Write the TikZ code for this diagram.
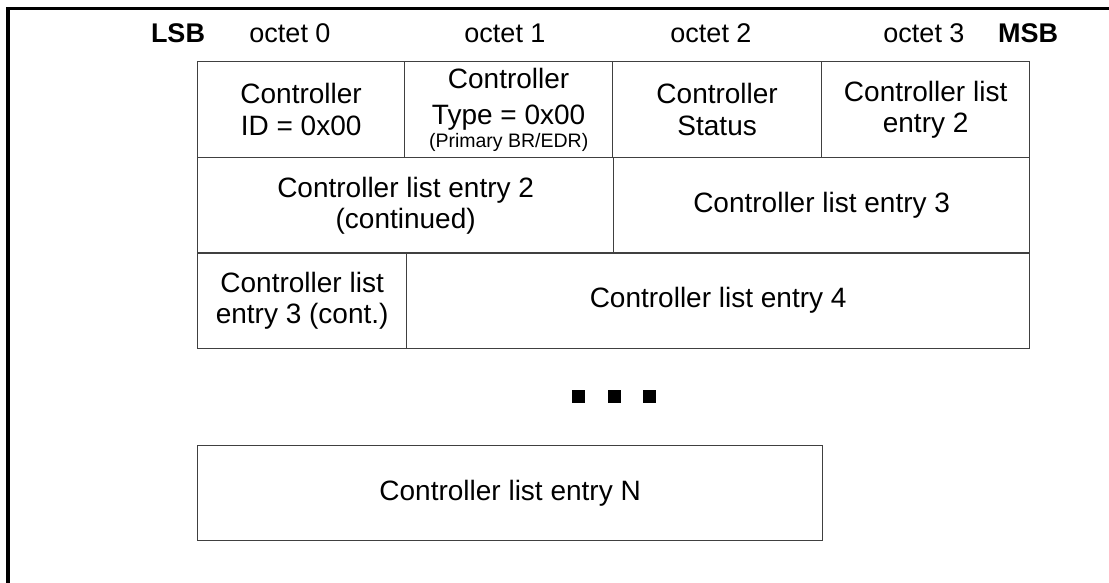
\documentclass[tikz,border=0pt]{standalone}
\usepackage{fontspec}
\setmainfont{Liberation Sans}
\usetikzlibrary{positioning}

\begin{document}
\begin{tikzpicture}[
    x=1pt, y=-1pt,
    font=\fontsize{28}{31.5}\selectfont,
    every node/.style={align=center},
    %% one field of the controller list table
    cell/.style={
        draw=black!75, line width=1.3pt,
        inner sep=0pt, minimum height=96pt,
        anchor=north west
    },
    %% octet number above the table
    octet/.style={font=\fontsize{27}{30}\selectfont, anchor=base},
    %% byte order marker
    order/.style={font=\fontsize{27}{30}\selectfont\bfseries, anchor=base},
    %% the continuation marks
    dot/.style={fill=black, minimum size=13pt, inner sep=0pt},
    %% page frame
    frame/.style={line width=3.5pt}
]
\useasboundingbox (0,0) rectangle (1109,583);

%%-------------------------------------------------------------- frame
\draw[frame] (8,583) -- (8,8.5) -- (1109,8.5);

%%-------------------------------------------------------------- header
\node[order] (lsb)  at (178,43)  {LSB};
\node[octet] (oct0) at (290,43)  {octet 0};
\node[octet] (oct1) at (505,43)  {octet 1};
\node[octet] (oct2) at (711,43)  {octet 2};
\node[octet] (oct3) at (924,43)  {octet 3};
\node[order] (msb)  at (1028,43) {MSB};

%%-------------------------------------------------------------- fields
\node[cell, minimum width=207pt] (ctrlid)     at (197,61)  {Controller\\ID = 0x00};
\node[cell, minimum width=208pt] (ctrltype)   at (404,61)  {Controller\\[5pt]Type = 0x00\\[-9pt]{\fontsize{19.5}{22}\selectfont (Primary BR/EDR)}};
\node[cell, minimum width=209pt] (ctrlstatus) at (612,61)  {Controller\\Status};
\node[cell, minimum width=208pt] (entrytwo)   at (821,61)  {Controller list\\entry 2};

\node[cell, minimum width=416pt] (entrytwoc)  at (197,157) {Controller list entry 2\\(continued)};
\node[cell, minimum width=416pt] (entrythree) at (613,157) {Controller list entry 3};

\node[cell, minimum width=209pt] (entrythreec) at (197,252) {Controller list\\entry 3 (cont.)};
\node[cell, minimum width=623pt] (entryfour)   at (406,252) {Controller list entry 4};

% more entries follow
\foreach \i/\x in {1/578.5, 2/614.5, 3/649.5}
    \node[dot] (dot\i) at (\x,396.5) {};

\node[cell, minimum width=625pt, minimum height=95pt] (entryn) at (197,445) {Controller list entry N};

\end{tikzpicture}
\end{document}
